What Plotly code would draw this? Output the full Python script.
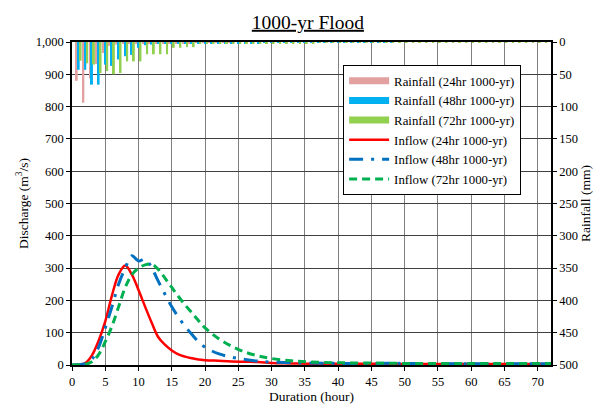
import plotly.graph_objects as go

# hydrograph hours and inflow (m3/s)
inflow_hours = [0, 1, 2, 3, 4, 5, 6, 7, 8, 9, 10, 11, 12, 13, 14, 15, 16, 17, 18, 19, 20,
                22, 24, 26, 28, 30, 33, 36, 40, 45, 50, 55, 60, 65, 70, 72]
inflow_24 = [0, 1, 6, 30, 75, 135, 215, 280, 308, 280, 232, 180, 130, 85, 62, 45, 33, 26, 21, 17, 15,
             13, 11, 10, 9, 6, 5, 4, 4, 4, 3, 3, 3, 3, 3, 3]
inflow_48 = [0, 1, 4, 18, 55, 115, 180, 250, 300, 338, 322, 328, 300, 258, 218, 180, 148, 120, 95, 72, 55,
             35, 24, 17, 12, 9, 7, 6, 5, 5, 5, 4, 4, 4, 4, 4]
inflow_72 = [0, 1, 2, 10, 32, 72, 120, 180, 240, 280, 300, 310, 312, 295, 268, 240, 212, 186, 162, 138, 115,
             82, 58, 40, 28, 20, 13, 9, 7, 6, 5, 5, 5, 5, 5, 5]

# hourly rainfall (mm)
rain_24 = [60, 94, 56, 34, 17, 6, 4, 3, 3, 3, 2, 2, 2, 2, 2, 2, 2, 2, 1, 1, 1, 1, 1, 1]
rain_48 = [43, 43, 66, 66, 35, 37, 27, 22, 20, 9, 5, 4, 3, 3, 3, 3,
           2, 2, 2, 2, 2, 2, 2, 2, 2, 2, 2, 2, 1, 1, 1, 1,
           1, 1, 1, 1, 1, 1, 1, 1, 1, 1, 1, 1, 1, 1, 1, 1]
rain_72 = [29, 33, 35, 48, 45, 50, 48, 30, 30, 30, 19, 19, 19, 19, 9, 9, 8, 8, 3, 3, 2, 2, 2, 2,
           2, 2, 2, 2, 2, 2, 2, 2, 2, 2, 2, 2, 1, 1, 1, 1, 1, 1, 1, 1, 1, 1, 1, 1,
           1, 1, 1, 1, 1, 1, 1, 1, 1, 1, 1, 1, 1, 1, 1, 1, 1, 1, 1, 1, 1, 1, 1, 1]

rain_labels = ["Rainfall (24hr 1000-yr)", "Rainfall (48hr 1000-yr)", "Rainfall (72hr 1000-yr)"]
rain_colors = ["#E3A0A0", "#00B0F0", "#92D050"]

FONT = "Liberation Serif"
tick_font = dict(family=FONT, size=12.5, color="black")
title_font = dict(family=FONT, size=13.5, color="black")

fig = go.Figure()

for vals, name, col in zip([rain_24, rain_48, rain_72], rain_labels, rain_colors):
    fig.add_trace(go.Bar(
        x=list(range(1, len(vals) + 1)), y=vals, yaxis="y2",
        marker_color=col, marker_line_width=0, showlegend=False, name=name
    ))
    # legend swatch drawn as a thick line, like the original
    fig.add_trace(go.Scatter(
        x=[None], y=[None], mode="lines", name=name,
        line=dict(color=col, width=7)
    ))

fig.add_trace(go.Scatter(
    x=inflow_hours, y=inflow_24, mode="lines", name="Inflow (24hr 1000-yr)",
    line=dict(color="#FF0000", width=2.5, shape="spline")
))
fig.add_trace(go.Scatter(
    x=inflow_hours, y=inflow_48, mode="lines", name="Inflow (48hr 1000-yr)",
    line=dict(color="#0070C0", width=3, dash="14px,8px,3px,8px", shape="spline")
))
fig.add_trace(go.Scatter(
    x=inflow_hours, y=inflow_72, mode="lines", name="Inflow (72hr 1000-yr)",
    line=dict(color="#00B050", width=3, dash="8px,5px", shape="spline")
))

# the page body has an 8px margin, so the figure is sized to fit the rest of the window
fig.update_layout(
    width=595, height=400,
    margin=dict(l=64, r=52, t=34, b=43, autoexpand=False),
    paper_bgcolor="white", plot_bgcolor="white",
    font=dict(family=FONT, size=12, color="black"),
    title=dict(text="<u>1000-yr Flood</u>", x=0.504, xanchor="center",
               y=1 - 14 / 400, yanchor="middle", yref="container",
               font=dict(family=FONT, size=19.5, color="black")),
    barmode="group", bargap=0.12, bargroupgap=0,
    xaxis=dict(range=[0, 72], dtick=5, tick0=0, showgrid=True, gridcolor="#7f7f7f", gridwidth=1,
               showline=True, linecolor="black", linewidth=1.5, mirror=True, automargin=False,
               ticks="outside", ticklen=4, tickcolor="black", zeroline=False, tickfont=tick_font,
               title=dict(text="Duration (hour)", font=title_font, standoff=2)),
    yaxis=dict(range=[0, 1000], dtick=100, tickformat=",d", showgrid=True, gridcolor="#404040",
               gridwidth=1, showline=True, linecolor="black", linewidth=1.5, zeroline=False,
               ticks="outside", ticklen=4, tickcolor="black", automargin=False, tickfont=tick_font,
               title=dict(text="Discharge (m<sup>3</sup>/s)", font=title_font, standoff=4)),
    yaxis2=dict(range=[500, 0], dtick=50, overlaying="y", side="right", showgrid=False,
                showline=True, linecolor="black", linewidth=1.5, zeroline=False,
                ticks="outside", ticklen=4, tickcolor="black", automargin=False, tickfont=tick_font,
                title=dict(text="Rainfall (mm)", font=title_font, standoff=2)),
    legend=dict(x=0.566, y=0.929, xanchor="left", yanchor="top", bgcolor="white",
                bordercolor="black", borderwidth=1, font=dict(family=FONT, size=12.8),
                tracegroupgap=0, itemwidth=40),
)

fig.write_html("out.html")
